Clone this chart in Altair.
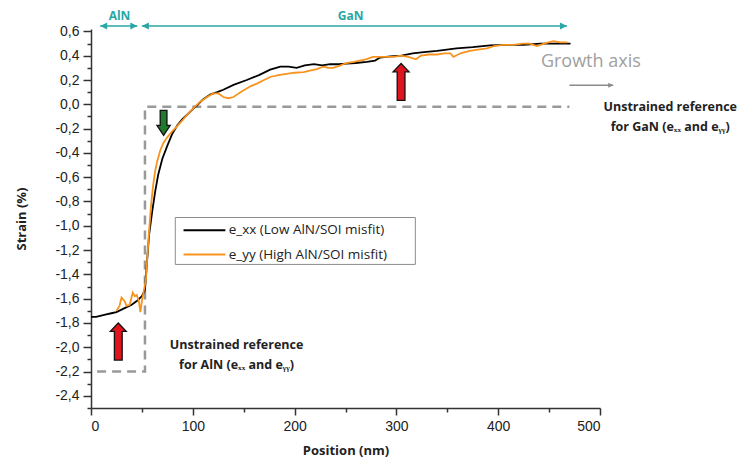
import altair as alt
import pandas as pd

# ---------------- data ----------------
xx_pos = [0, 5, 10, 15, 20, 25, 30, 35, 40, 45, 50, 53, 55, 57, 60, 63, 66, 70, 75, 80,
          85, 90, 95, 100, 104, 110, 117, 124, 130, 140, 153, 165, 176, 186, 194, 202, 210,
          219, 227, 235, 243, 251, 260, 271, 279, 284, 294, 305, 316, 327, 340, 359, 375,
          392, 408, 425, 441, 455, 467, 471]
xx_val = [-1.75, -1.75, -1.74, -1.73, -1.72, -1.71, -1.69, -1.67, -1.65, -1.62, -1.58, -1.53,
          -1.30, -1.08, -0.89, -0.72, -0.58, -0.45, -0.34, -0.24, -0.17, -0.12, -0.08, -0.04,
          -0.01, 0.04, 0.08, 0.10, 0.12, 0.16, 0.20, 0.24, 0.285, 0.31, 0.31, 0.30, 0.32, 0.33,
          0.32, 0.33, 0.33, 0.335, 0.34, 0.35, 0.36, 0.385, 0.395, 0.40, 0.42, 0.43, 0.44, 0.46,
          0.47, 0.485, 0.49, 0.49, 0.50, 0.50, 0.50, 0.50]

yy_pos = [25, 28, 30, 33, 35, 38, 41, 43, 45, 47, 48.5, 50, 52, 54, 55, 57, 59, 61, 63, 65,
          68, 71, 75, 80, 84, 90, 95, 101, 107, 114, 120, 125, 130, 135, 140, 145, 150, 157,
          163, 170, 176, 184, 192, 200, 209, 216, 222, 228, 233, 238, 245, 251, 258, 264, 270,
          277, 284, 291, 298, 304, 312, 319, 324, 332, 340, 347, 353, 356, 363, 372, 380, 389,
          396, 405, 415, 424, 431, 438, 445, 454, 461, 468]
yy_val = [-1.70, -1.66, -1.59, -1.62, -1.66, -1.65, -1.55, -1.58, -1.57, -1.62, -1.71, -1.62,
          -1.53, -1.44, -1.30, -1.05, -0.83, -0.67, -0.55, -0.47, -0.38, -0.32, -0.27, -0.22,
          -0.185, -0.13, -0.08, -0.03, 0.02, 0.06, 0.09, 0.09, 0.06, 0.05, 0.06, 0.09, 0.115,
          0.15, 0.17, 0.20, 0.225, 0.24, 0.25, 0.26, 0.265, 0.28, 0.29, 0.31, 0.30, 0.30, 0.32,
          0.34, 0.35, 0.36, 0.37, 0.39, 0.39, 0.39, 0.39, 0.40, 0.39, 0.37, 0.40, 0.41, 0.41,
          0.42, 0.42, 0.39, 0.42, 0.44, 0.45, 0.46, 0.48, 0.49, 0.49, 0.50, 0.50, 0.48, 0.50,
          0.52, 0.51, 0.51]

series_names = ["e_xx (Low AlN/SOI misfit)", "e_yy (High AlN/SOI misfit)"]
series_colors = ["#000000", "#F7931E"]

# unstrained reference (dashed path)
ref_pos = [6, 53, 53, 470]
ref_val = [-2.2, -2.2, -0.02, -0.02]

# layer labels on top
layer_names = ["AlN", "GaN"]
layer_start = [9, 50]
layer_end = [45.5, 467.6]
layer_label_pos = [28, 255]

# tick values
X_TICKS = [0, 50, 100, 150, 200, 250, 300, 350, 400, 450, 500]
Y_TICKS = [-2.5, -2.4, -2.3, -2.2, -2.1, -2.0, -1.9, -1.8, -1.7, -1.6, -1.5, -1.4, -1.3,
           -1.2, -1.1, -1.0, -0.9, -0.8, -0.7, -0.6, -0.5, -0.4, -0.3, -0.2, -0.1, 0.0,
           0.1, 0.2, 0.3, 0.4, 0.5, 0.6]

# ---------------- styling ----------------
TEAL = "#2AA6A4"
GRAY_TXT = "#222222"
FONT = "Open Sans"
UP = "M0,-1L0.43,-0.55L0.21,-0.55L0.21,1L-0.21,1L-0.21,-0.55L-0.43,-0.55Z"
DOWN = "M0,1L0.53,0.2L0.27,0.2L0.27,-1L-0.27,-1L-0.27,0.2L-0.53,0.2Z"
HEAD_R = "M0,0L-1,-0.5L-1,0.5Z"
HEAD_L = "M0,0L1,-0.5L1,0.5Z"

xscale = alt.Scale(domain=[0, 500], nice=False, zero=False)
yscale = alt.Scale(domain=[-2.5, 0.62], nice=False, zero=False)

MAJ_X = "datum.value % 100 == 0"
MAJ_Y = "abs(round(datum.value * 10)) % 2 == 0"

common_axis = dict(grid=False, domainColor="#333333", tickColor="#333333", domainWidth=1.5,
                   tickWidth=1.5, labelFont="Liberation Sans", labelFontSize=14,
                   labelColor=GRAY_TXT, labelPadding=4, titleFont=FONT, titleFontWeight="bold",
                   titleFontSize=13, titleColor=GRAY_TXT, labelOverlap=False)

xaxis = alt.Axis(title="Position (nm)", values=X_TICKS,
                 labelExpr=f"{MAJ_X} ? datum.label : ''",
                 tickSize={"condition": {"test": MAJ_X, "value": 7}, "value": 4},
                 titlePadding=11, **common_axis)
yaxis = alt.Axis(title="Strain (%)", values=Y_TICKS,
                 labelExpr=f"{MAJ_Y} ? replace(replace(format(datum.value, '.1f'), '.', ','), '\u2212', '-') : ''",
                 tickSize={"condition": {"test": MAJ_Y, "value": 8}, "value": 4},
                 titlePadding=26, **common_axis)


def X(f):
    return alt.X(f, type="quantitative", scale=xscale, axis=xaxis)


def Y(f):
    return alt.Y(f, type="quantitative", scale=yscale, axis=yaxis)


# ---------------- frames ----------------
lines_df = pd.concat([
    pd.DataFrame({"pos": xx_pos, "val": xx_val, "series": series_names[0]}),
    pd.DataFrame({"pos": yy_pos, "val": yy_val, "series": series_names[1]}),
])
ref_df = pd.DataFrame({"pos": ref_pos, "val": ref_val, "i": list(range(len(ref_pos)))})

teal_df = pd.DataFrame({"x1": layer_start, "x2": layer_end, "y": [0.644, 0.644]})
teal_heads = pd.DataFrame({
    "x": [layer_start[0], layer_end[0], layer_start[1], layer_end[1]],
    "y": [0.644] * 4,
    "shape": [HEAD_L, HEAD_R, HEAD_L, HEAD_R],
})
teal_labels = pd.DataFrame({"x": layer_label_pos, "y": [0.725, 0.725], "t": layer_names})

growth_rule = pd.DataFrame({"x1": [470], "x2": [513], "y": [0.156]})
growth_head = pd.DataFrame({"x": [513], "y": [0.156], "shape": [HEAD_R]})
growth_text = pd.DataFrame({"x": [491], "y": [0.348], "t": ["Growth axis"]})

ref_text = pd.DataFrame({
    "x": [569, 569, 143, 143],
    "y": [-0.022, -0.187, -1.98, -2.15],
    "t": ["Unstrained reference", "for GaN (e\u2093\u2093 and e\u1d67\u1d67)",
          "Unstrained reference", "for AlN (e\u2093\u2093 and e\u1d67\u1d67)"],
})

block_arrows = pd.DataFrame({
    "x": [26.8, 304.6, 71.3],
    "y": [-1.953, 0.184, -0.152],
    "shape": [UP, UP, DOWN],
    "fill": ["#E0141E", "#E0141E", "#1E7A2C"],
    "size": [1369, 1369, 625],
})

legend_box = pd.DataFrame({"x1": [82.8], "x2": [318.6], "y1": [-0.932], "y2": [-1.318]})
legend_lines = pd.DataFrame({"x1": [90.9, 90.9], "x2": [132, 132], "y": [-1.036, -1.237],
                             "series": series_names})
legend_text = pd.DataFrame({"x": [135.2, 135.2], "y": [-1.036, -1.237], "t": series_names})

color_scale = alt.Scale(domain=series_names, range=series_colors)

# ---------------- layers ----------------
ref_layer = alt.Chart(ref_df).mark_line(strokeDash=[9, 6], strokeWidth=2.5, color="#999999").encode(
    x=X("pos"), y=Y("val"), order="i:Q")

lines_layer = alt.Chart(lines_df).mark_line(strokeWidth=1.8).encode(
    x=X("pos"), y=Y("val"),
    color=alt.Color("series:N", scale=color_scale, legend=None))

teal_rule = alt.Chart(teal_df).mark_rule(color=TEAL, strokeWidth=1.5).encode(
    x=X("x1"), x2="x2", y=Y("y"))
teal_head = alt.Chart(teal_heads).mark_point(filled=True, color=TEAL, opacity=1, size=196).encode(
    x=X("x"), y=Y("y"), shape=alt.Shape("shape:N", scale=None))
teal_txt = alt.Chart(teal_labels).mark_text(font=FONT, fontWeight="bold", fontSize=12,
                                             color=TEAL).encode(x=X("x"), y=Y("y"), text="t:N")

g_rule = alt.Chart(growth_rule).mark_rule(color="#8A8A8A", strokeWidth=1.5).encode(
    x=X("x1"), x2="x2", y=Y("y"))
g_head = alt.Chart(growth_head).mark_point(filled=True, color="#8A8A8A", opacity=1, size=100).encode(
    x=X("x"), y=Y("y"), shape=alt.Shape("shape:N", scale=None))
g_txt = alt.Chart(growth_text).mark_text(font=FONT, fontSize=18, color="#A0A0A0").encode(
    x=X("x"), y=Y("y"), text="t:N")

ref_txt = alt.Chart(ref_text).mark_text(font=FONT, fontWeight="bold", fontSize=12.5,
                                         color=GRAY_TXT).encode(x=X("x"), y=Y("y"), text="t:N")

arrows = alt.Chart(block_arrows).mark_point(filled=True, opacity=1, stroke="#111111",
                                            strokeWidth=1.3, strokeOpacity=1).encode(
    x=X("x"), y=Y("y"),
    shape=alt.Shape("shape:N", scale=None),
    fill=alt.Fill("fill:N", scale=None),
    size=alt.Size("size:Q", scale=None))

leg_box = alt.Chart(legend_box).mark_rect(fill="white", stroke="#8C8C8C", strokeWidth=1).encode(
    x=X("x1"), x2="x2", y=Y("y1"), y2="y2")
leg_lines = alt.Chart(legend_lines).mark_rule(strokeWidth=2).encode(
    x=X("x1"), x2="x2", y=Y("y"),
    color=alt.Color("series:N", scale=color_scale, legend=None))
leg_txt = alt.Chart(legend_text).mark_text(font=FONT, fontSize=13.5, align="left",
                                            color=GRAY_TXT).encode(x=X("x"), y=Y("y"), text="t:N")

chart = alt.layer(
    ref_layer, lines_layer, teal_rule, teal_head, teal_txt, g_rule, g_head, g_txt,
    ref_txt, arrows, leg_box, leg_lines, leg_txt,
).properties(
    width=509, height=379,
    padding={"left": 83, "top": 21, "right": 142, "bottom": 52},
    autosize=alt.AutoSizeParams(type="none"),
    background="white",
).configure_view(stroke=None)

chart.save("out.html", embed_options={"renderer": "svg", "actions": False})
